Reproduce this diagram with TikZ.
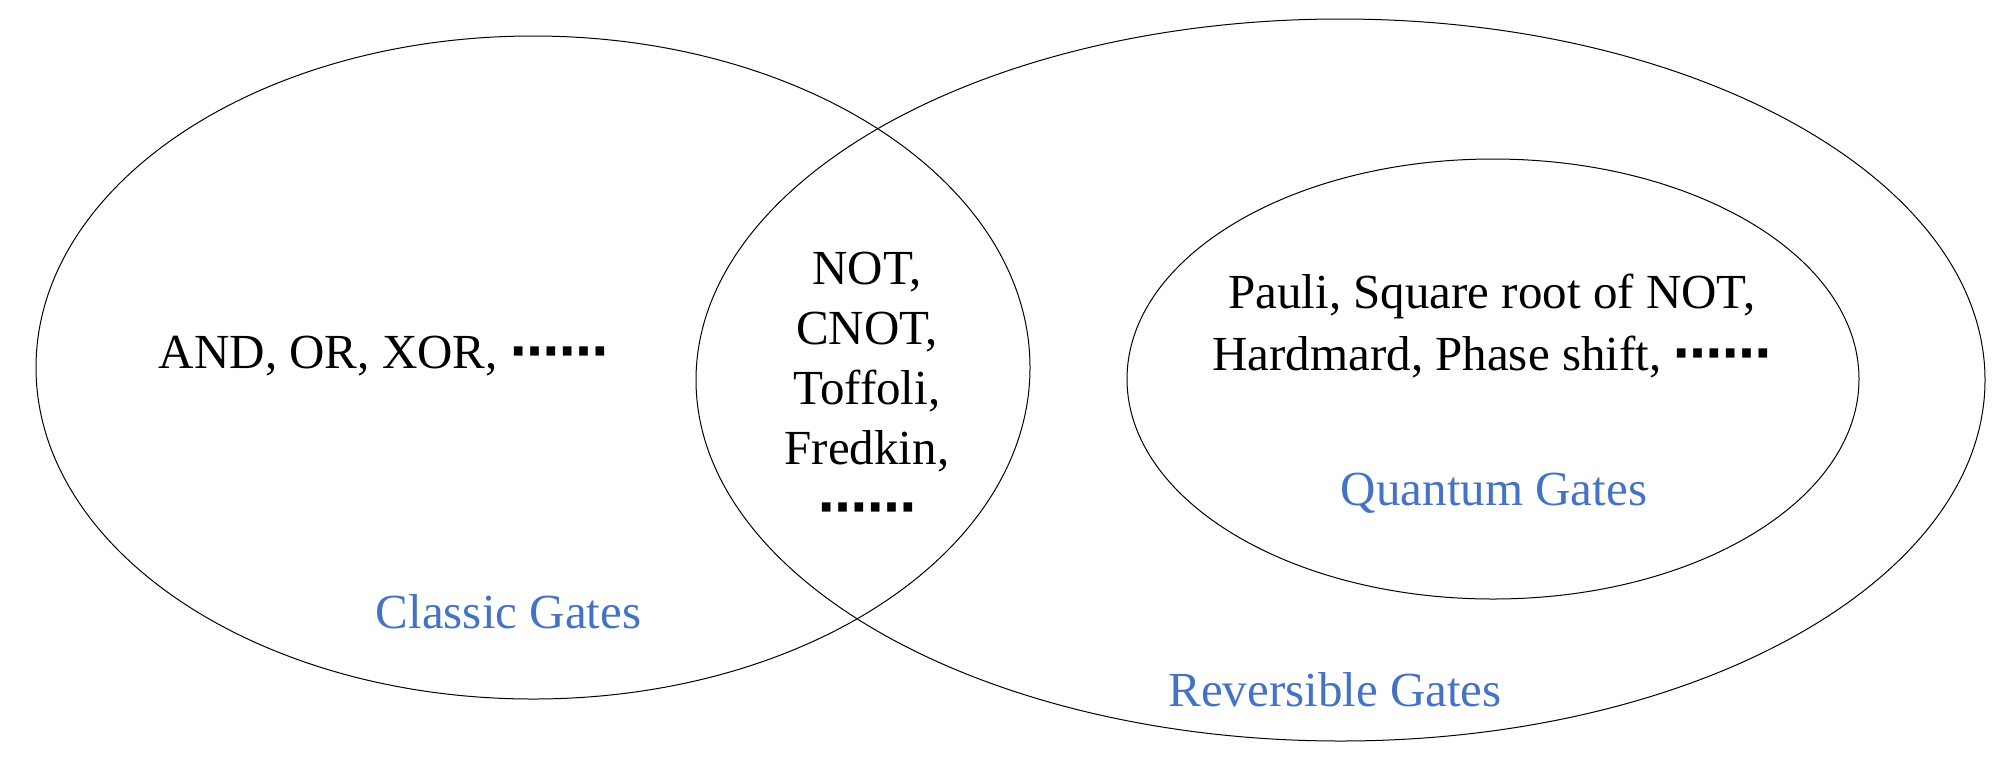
\documentclass[tikz,border=0pt]{standalone}
\usepackage{fontspec}
\setmainfont{Liberation Serif}
\newfontfamily\dotfont{DejaVu Sans}
\newcommand{\gatedots}{{\dotfont\bfseries ⋯⋯}}
\definecolor{gateblue}{RGB}{68,114,196}

\begin{document}
\begin{tikzpicture}[x=0.5pt,y=-0.5pt,line width=0.5pt]
	\tikzstyle{gates}=[font=\fontsize{24.5}{30}\selectfont,inner sep=0pt,align=center,anchor=base];
	\tikzstyle{setname}=[gates,text=gateblue];
	\useasboundingbox (0,0) rectangle (2011,756);
	%% Sets
	\draw (533,367.5) ellipse [x radius=497,y radius=331.5];
	\draw (1340.5,380) ellipse [x radius=644.5,y radius=361];
	\draw (1493,379) ellipse [x radius=366,y radius=220];
	%% Members (base = last line)
	\node[gates] (classic) at (383.5,368) {AND, OR, XOR, \gatedots};
	\node[gates] (both) at (867,524)
		{NOT,\\CNOT,\\Toffoli,\\Fredkin,\\\gatedots};
	\node[gates] (quantum) at (1492,370)
		{Pauli, Square root of NOT,\\[1pt]Hardmard, Phase shift, \gatedots};
	%% Set names
	\node[setname] (classic-name) at (508.5,628) {Classic Gates};
	\node[setname] (quantum-name) at (1494,505) {Quantum Gates};
	\node[setname] (reversible-name) at (1335,706) {Reversible Gates};
\end{tikzpicture}
\end{document}
